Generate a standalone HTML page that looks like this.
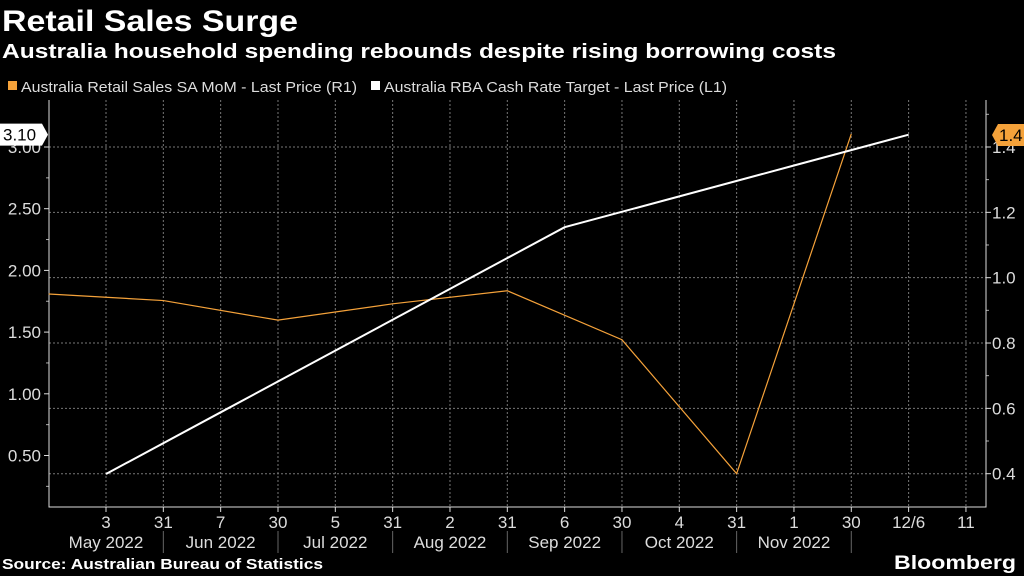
<!DOCTYPE html>
<html><head><meta charset="utf-8"><style>
html,body{margin:0;padding:0;background:#000;width:1024px;height:576px;overflow:hidden}
svg{display:block;font-family:"Liberation Sans","DejaVu Sans",sans-serif}
</style></head><body>
<svg id="chart" width="1024" height="576" viewBox="0 0 1024 576">
<text x="2" y="31" fill="#fff" font-size="30" font-weight="bold" textLength="296" lengthAdjust="spacingAndGlyphs">Retail Sales Surge</text>
<text x="2" y="58" fill="#fff" font-size="20" font-weight="bold" textLength="834" lengthAdjust="spacingAndGlyphs">Australia household spending rebounds despite rising borrowing costs</text>
<g>
<rect x="8" y="81" width="9" height="9" fill="#f5a23a"/>
<text x="21" y="92" fill="#ddd" font-size="15" textLength="336" lengthAdjust="spacingAndGlyphs">Australia Retail Sales SA MoM - Last Price (R1)</text>
<rect x="371" y="81" width="9" height="9" fill="#fff"/>
<text x="384" y="92" fill="#ddd" font-size="15" textLength="343" lengthAdjust="spacingAndGlyphs">Australia RBA Cash Rate Target - Last Price (L1)</text>
</g>
<g id="plot"></g>
<text x="2" y="569" fill="#fff" font-size="15" font-weight="bold" textLength="321" lengthAdjust="spacingAndGlyphs">Source: Australian Bureau of Statistics</text>
<text x="1016" y="569" fill="#fff" font-size="19" font-weight="bold" text-anchor="end" textLength="122" lengthAdjust="spacingAndGlyphs">Bloomberg</text>
</svg>
<script>
const xTickLabels = ["3","31","7","30","5","31","2","31","6","30","4","31","1","30","12/6","11"];
const monthLabels = ["May 2022","Jun 2022","Jul 2022","Aug 2022","Sep 2022","Oct 2022","Nov 2022"];
const leftTicks = [0.5,1.0,1.5,2.0,2.5,3.0];
const rightTicks = [0.4,0.6,0.8,1.0,1.2,1.4];
const rbaIdx = [0,2,4,6,8,10,12,14];
const rbaValues = [0.35,0.85,1.35,1.85,2.35,2.60,2.85,3.10];
const retailIdx = [-1,1,3,5,7,9,11,13];
const retailValues = [0.95,0.93,0.87,0.92,0.96,0.81,0.40,1.44];

const NS="http://www.w3.org/2000/svg";
const g=document.getElementById('plot');
const L=49,R=986,T=100,B=507;
const xS=i=>106+i*57.33;
const yL=v=>147+(3.0-v)*123.4;
const yR=v=>147+(1.4-v)*326.7;
function mk(tag,attrs,parent){const e=document.createElementNS(NS,tag);for(const k in attrs)e.setAttribute(k,attrs[k]);(parent||g).appendChild(e);return e;}

leftTicks.forEach(v=>{
  const y=yL(v);
  const tk=mk('line',{x1:L-5,x2:L,y1:y,y2:y,stroke:'#ddd'});
  
  
  const mt=mk('line',{x1:L-3,x2:L,y1:y+61.7/2,y2:y+61.7/2,stroke:'#aaa'});
  
  
  const t=mk('text',{x:L-8,y:y+6,fill:'#ddd','font-size':17,'text-anchor':'end'});
  t.textContent=v.toFixed(2);
  
  
});
rightTicks.forEach(v=>{
  const y=yR(v);
  const gl=mk('line',{x1:L,x2:R,y1:y,y2:y,stroke:'#777','stroke-width':1,'stroke-dasharray':'2,2'});
  
  
  const tk=mk('line',{x1:R,x2:R+5,y1:y,y2:y,stroke:'#ddd'});
  
  
  const mt=mk('line',{x1:R,x2:R+3,y1:y-32.7,y2:y-32.7,stroke:'#aaa'});
  
  
  const t=mk('text',{x:R+6,y:y+6,fill:'#ddd','font-size':17});
  t.textContent=v.toFixed(1);
  
  
});
xTickLabels.forEach((s,i)=>{
  const x=xS(i);
  const gl=mk('line',{x1:x,x2:x,y1:T,y2:B,stroke:'#777','stroke-width':1,'stroke-dasharray':'2,2'});
  
  
  const tk=mk('line',{x1:x,x2:x,y1:B,y2:B+5,stroke:'#ddd'});
  
  
  const t=mk('text',{x:x,y:B+21,fill:'#ddd','font-size':17,'text-anchor':'middle'});
  t.textContent=s;
  
  
});
monthLabels.forEach((s,i)=>{
  const x0=xS(2*i-1), x1=xS(2*i+1);
  const t=mk('text',{x:(x0+x1)/2,y:B+41,fill:'#ddd','font-size':17,'text-anchor':'middle'});
  t.textContent=s;
  
  
  const sp=mk('line',{x1:x1,x2:x1,y1:B+24,y2:B+46,stroke:'#666'});
  
  
});
const ax=mk('path',{d:`M${L},${T} V${B} H${R} V${T}`,fill:'none',stroke:'#ddd','stroke-width':1});



const rp=mk('polyline',{points:retailIdx.map((k,i)=>xS(k)+','+yR(retailValues[i])).join(' '),fill:'none',stroke:'#f5a23a','stroke-width':1.2});


const wp=mk('polyline',{points:rbaIdx.map((k,i)=>xS(k)+','+yL(rbaValues[i])).join(' '),fill:'none',stroke:'#fff','stroke-width':2});



const ly=yL(rbaValues[rbaValues.length-1]);
const lb=mk('path',{d:`M0,${ly-11} H42 L48,${ly} L42,${ly+11} H0 Z`,fill:'#fff'});


const lt=mk('text',{x:3,y:ly+6,fill:'#000','font-size':17});
lt.textContent=rbaValues[rbaValues.length-1].toFixed(2);


const ry=yR(1.4)-12;
const rb=mk('path',{d:`M${R+6},${ry} L${R+12},${ry-11} H1024 V${ry+11} H${R+12} Z`,fill:'#f5a23a'});


const rt=mk('text',{x:R+13,y:ry+6,fill:'#000','font-size':17});
rt.textContent='1.4';


</script>
</body></html>
